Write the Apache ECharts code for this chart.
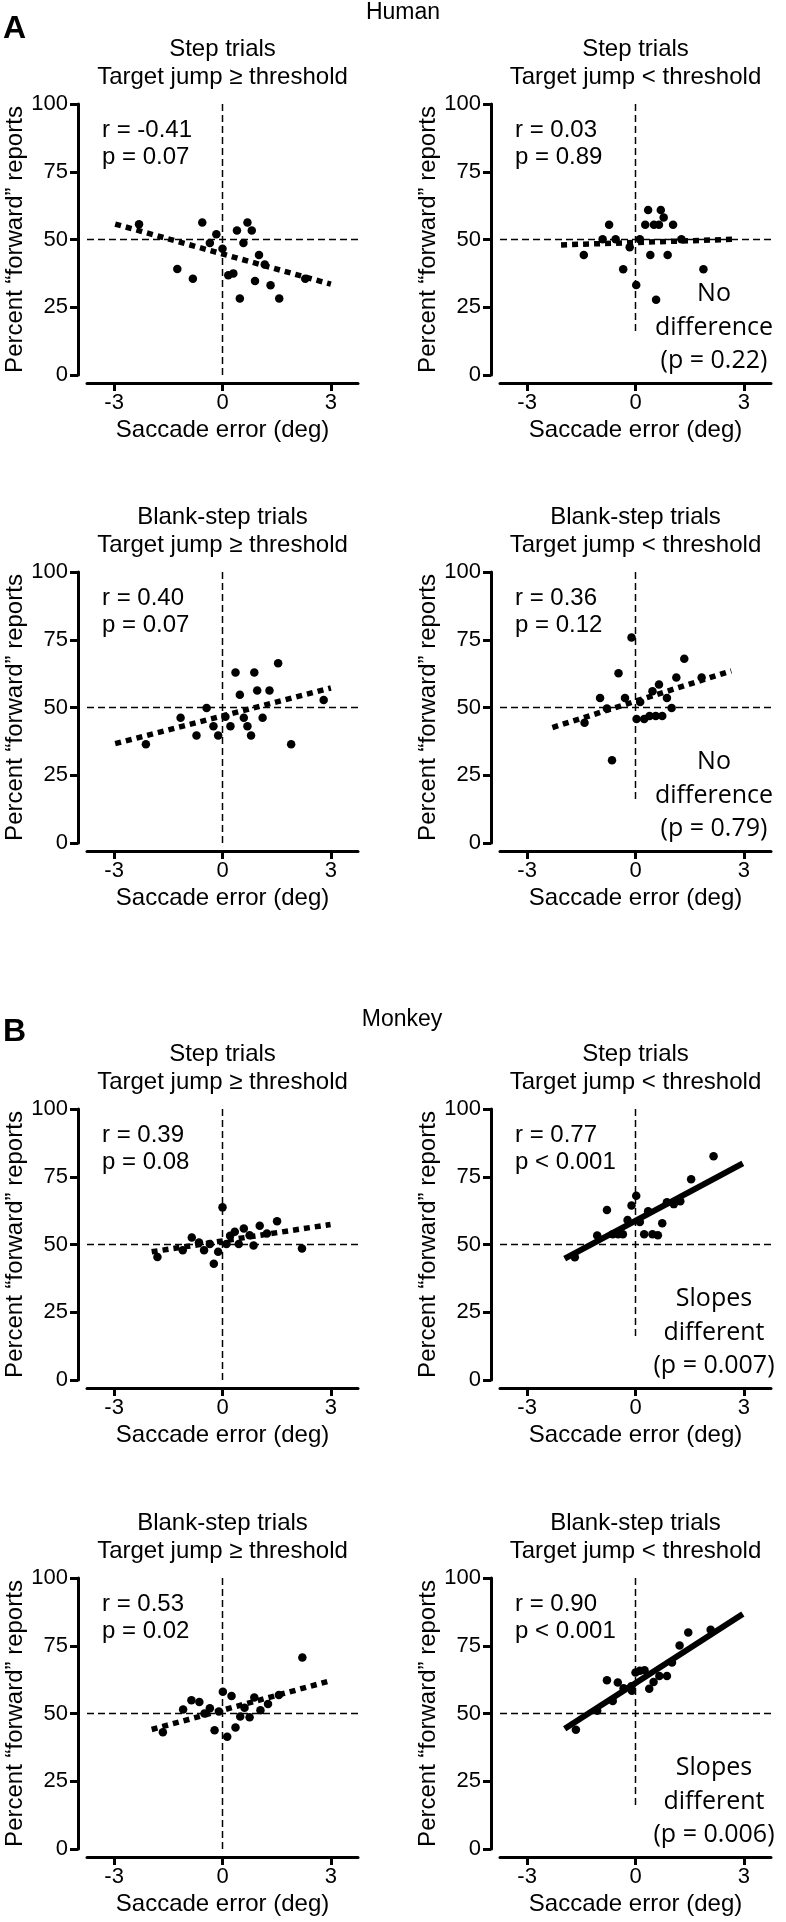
<!DOCTYPE html>
<html lang="en">
<head>
<meta charset="UTF-8">
<title>Saccade error vs forward reports</title>
<script src="https://cdn.jsdelivr.net/npm/echarts@6/dist/echarts.min.js"></script>
<style>
  html, body { margin: 0; padding: 0; background: #fff; }
  #main { width: 786px; height: 1922px; }
</style>
</head>
<body>
<div id="main"></div>
<script>
  // x = saccade error (deg), y = percent "forward" reports
  // A: human
  const hStepAboveX = [-2.31, -0.56, -0.17, -0.35, 0, -1.25, -0.82, 0.40, 0.69, 0.81, 0.58, 1.01, 1.17, 0.16, 0.30, 0.90, 1.33, 0.48, 1.57, 2.29];
  const hStepAboveY = [55.6, 56.3, 51.9, 48.7, 46.6, 39.1, 35.5, 53.3, 56.3, 53.3, 48.7, 44.3, 40.8, 36.8, 37.5, 34.7, 33.1, 28.2, 28.2, 35.5];
  const hStepAboveFit = [[-2.97, 55.7], [3.0, 33.5]];

  const hStepBelowX = [-0.73, -1.43, -0.91, -0.55, -0.34, -0.16, 0.02, 0.12, 0.27, 0.35, 0.51, 0.65, 0.70, 0.78, 1.04, 0.41, 0.89, 1.27, 0.57, 1.88];
  const hStepBelowY = [55.4, 44.3, 50.1, 50.1, 39.0, 47.1, 33.2, 50.1, 55.4, 60.9, 55.4, 55.4, 60.9, 58.1, 55.4, 44.3, 44.3, 50.1, 27.8, 39.0];
  const hStepBelowFit = [[-2.06, 48.0], [2.78, 50.1]];

  const hBlankAboveX = [-2.12, -1.16, -0.72, -0.44, -0.25, -0.12, 0.08, 0.22, 0.36, 0.48, 0.59, 0.69, 0.79, 0.88, 0.96, 1.11, 1.30, 1.54, 1.90, 2.80];
  const hBlankAboveY = [36.4, 46.2, 39.7, 49.8, 43.1, 39.7, 46.6, 43.1, 62.9, 54.7, 46.2, 43.1, 39.7, 62.9, 56.3, 46.2, 56.3, 66.3, 36.4, 52.8];
  const hBlankAboveFit = [[-2.97, 36.7], [3.0, 57.2]];

  const hBlankBelowX = [-0.11, -0.47, -0.98, -0.79, -0.29, -1.41, -0.65, 0.13, 0.03, 0.24, 0.39, 0.56, 0.74, 0.47, 0.65, 0.87, 1.00, 1.13, 1.35, 1.83];
  const hBlankBelowY = [75.8, 62.6, 53.5, 49.6, 53.5, 44.4, 30.5, 52.0, 45.8, 45.8, 46.9, 46.9, 46.9, 56.0, 58.5, 53.5, 49.8, 61.1, 68.0, 61.1];
  const hBlankBelowFit = [[-2.30, 42.6], [2.65, 63.5]];

  // B: monkey
  const mStepAboveX = [-1.80, -1.10, -0.85, -0.65, -0.51, -0.35, -0.24, -0.12, 0, 0.11, 0.21, 0.34, 0.45, 0.59, 0.75, 0.86, 1.03, 1.23, 1.51, 2.20];
  const mStepAboveY = [45.4, 47.9, 52.6, 50.7, 47.9, 50.2, 42.9, 47.3, 63.7, 50.2, 53.2, 54.7, 50.2, 55.9, 53.4, 49.6, 56.9, 54.1, 58.6, 48.5];
  const mStepAboveFit = [[-1.96, 47.3], [2.99, 57.4]];

  const mStepBelowX = [-1.68, -1.06, -0.79, -0.63, -0.48, -0.35, -0.22, -0.11, 0.02, 0.12, 0.24, 0.35, 0.47, 0.62, 0.74, 0.87, 1.06, 1.24, 1.54, 2.16];
  const mStepBelowY = [45.3, 53.3, 62.7, 53.8, 53.8, 53.8, 59.0, 64.4, 68.0, 58.3, 53.8, 62.3, 53.8, 53.4, 57.8, 65.6, 64.9, 66.0, 74.1, 82.6];
  const mStepBelowFit = [[-1.96, 44.8], [2.97, 79.9]];

  const mBlankAboveX = [-1.65, -1.09, -0.86, -0.64, -0.50, -0.35, -0.22, -0.10, 0.01, 0.13, 0.25, 0.36, 0.49, 0.61, 0.75, 0.88, 1.05, 1.26, 1.56, 2.21];
  const mBlankAboveY = [43.1, 51.5, 54.9, 54.2, 50.0, 51.9, 43.8, 50.7, 58.0, 41.4, 56.5, 44.8, 48.9, 52.1, 48.6, 55.9, 51.2, 53.5, 56.8, 70.7];
  const mBlankAboveFit = [[-1.96, 44.1], [2.99, 62.1]];

  const mBlankBelowX = [-1.65, -1.06, -0.79, -0.63, -0.49, -0.33, -0.10, -0.11, 0, 0.12, 0.25, 0.38, 0.50, 0.66, 0.87, 1.01, 1.22, 1.46, 2.08];
  const mBlankBelowY = [44.0, 51.0, 62.3, 54.6, 61.4, 59.3, 58.4, 60.1, 65.1, 65.8, 66.0, 59.1, 61.6, 63.8, 63.8, 68.8, 75.1, 79.9, 80.9];
  const mBlankBelowFit = [[-1.96, 44.4], [2.97, 86.7]];

  const xTicks = [-3, 0, 3];
  const yTicks = [0, 25, 50, 75, 100];

  const panels = [
    { x: hStepAboveX, y: hStepAboveY, fit: hStepAboveFit, solid: false, title: ['Step trials', 'Target jump ≥ threshold'], stats: ['r = -0.41', 'p = 0.07'], note: null },
    { x: hStepBelowX, y: hStepBelowY, fit: hStepBelowFit, solid: false, title: ['Step trials', 'Target jump < threshold'], stats: ['r = 0.03', 'p = 0.89'], note: ['No', 'difference', '(p = 0.22)'] },
    { x: hBlankAboveX, y: hBlankAboveY, fit: hBlankAboveFit, solid: false, title: ['Blank-step trials', 'Target jump ≥ threshold'], stats: ['r = 0.40', 'p = 0.07'], note: null },
    { x: hBlankBelowX, y: hBlankBelowY, fit: hBlankBelowFit, solid: false, title: ['Blank-step trials', 'Target jump < threshold'], stats: ['r = 0.36', 'p = 0.12'], note: ['No', 'difference', '(p = 0.79)'] },
    { x: mStepAboveX, y: mStepAboveY, fit: mStepAboveFit, solid: false, title: ['Step trials', 'Target jump ≥ threshold'], stats: ['r = 0.39', 'p = 0.08'], note: null },
    { x: mStepBelowX, y: mStepBelowY, fit: mStepBelowFit, solid: true, title: ['Step trials', 'Target jump < threshold'], stats: ['r = 0.77', 'p < 0.001'], note: ['Slopes', 'different', '(p = 0.007)'] },
    { x: mBlankAboveX, y: mBlankAboveY, fit: mBlankAboveFit, solid: false, title: ['Blank-step trials', 'Target jump ≥ threshold'], stats: ['r = 0.53', 'p = 0.02'], note: null },
    { x: mBlankBelowX, y: mBlankBelowY, fit: mBlankBelowFit, solid: true, title: ['Blank-step trials', 'Target jump < threshold'], stats: ['r = 0.90', 'p < 0.001'], note: ['Slopes', 'different', '(p = 0.006)'] }
  ];

  const FONT = '"Liberation Sans", Arial, sans-serif';
  const colLeft = [87, 500];
  const rowTop = [104, 572, 1109, 1578];
  const plotW = 271, plotH = 271;

  let grids = [], xAxes = [], yAxes = [], series = [], graphics = [];

  function txt(text, x, y, size, align, family, weight) {
    return {
      type: 'text', x: x, y: y, silent: true,
      style: {
        text: text,
        font: (weight || 'normal') + ' ' + size + 'px ' + (family || FONT),
        textAlign: align || 'center',
        textVerticalAlign: 'middle',
        fill: '#000'
      }
    };
  }

  panels.forEach((p, i) => {
    const left = colLeft[i % 2];
    const top = rowTop[Math.floor(i / 2)];
    grids.push({ left: left, top: top, width: plotW, height: plotH });

    xAxes.push({
      gridIndex: i, type: 'value', min: -3.75, max: 3.75, offset: 8,
      name: 'Saccade error (deg)', nameLocation: 'middle', nameGap: 35,
      nameTextStyle: { fontFamily: FONT, fontSize: 24, color: '#000' },
      axisLine: { onZero: false, lineStyle: { color: '#000', width: 3 } },
      axisTick: { customValues: xTicks, length: 8, lineStyle: { color: '#000', width: 3 } },
      axisLabel: { customValues: xTicks, margin: 9, fontFamily: FONT, fontSize: 22, color: '#000' },
      splitLine: { show: false }
    });
    yAxes.push({
      gridIndex: i, type: 'value', min: 0, max: 100, interval: 25, offset: 9,
      name: 'Percent “forward” reports', nameLocation: 'middle', nameGap: 50,
      nameTextStyle: { fontFamily: FONT, fontSize: 24, color: '#000' },
      axisLine: { onZero: false, lineStyle: { color: '#000', width: 3 } },
      axisTick: { length: 8, lineStyle: { color: '#000', width: 3 } },
      axisLabel: { margin: 10, fontFamily: FONT, fontSize: 22, color: '#000' },
      splitLine: { show: false }
    });

    const dash = { color: '#000', width: 1.5, type: [7, 4] };
    series.push({
      type: 'line', xAxisIndex: i, yAxisIndex: i, silent: true, symbol: 'none', clip: false,
      data: [[-3.75, 50], [3.75, 50]], lineStyle: dash
    });
    series.push({
      type: 'line', xAxisIndex: i, yAxisIndex: i, silent: true, symbol: 'none', clip: false,
      data: [[0, 100], [0, p.note ? 15 : 0]], lineStyle: dash
    });
    series.push({
      type: 'line', xAxisIndex: i, yAxisIndex: i, silent: true, symbol: 'none', clip: false,
      data: p.fit,
      lineStyle: p.solid ? { color: '#000', width: 6 } : { color: '#000', width: 5.5, type: [6, 5] }
    });
    series.push({
      type: 'scatter', xAxisIndex: i, yAxisIndex: i, symbolSize: 8.5,
      itemStyle: { color: '#000', opacity: 1 },
      data: p.x.map((v, k) => [v, p.y[k]])
    });

    const cx = left + plotW / 2;
    graphics.push(txt(p.title[0], cx, top - 55, 24));
    graphics.push(txt(p.title[1], cx, top - 27, 24));
    graphics.push(txt(p.stats[0], left + 15, top + 26, 24, 'left'));
    graphics.push(txt(p.stats[1], left + 15, top + 53, 24, 'left'));
    if (p.note) {
      const nx = left + 214;
      const fam = '"Open Sans", "Noto Sans", sans-serif';
      graphics.push(txt(p.note[0], nx, top + 190, 25, 'center', fam));
      graphics.push(txt(p.note[1], nx, top + 224, 25, 'center', fam));
      graphics.push(txt(p.note[2], nx, top + 257, 25, 'center', fam));
    }
  });

  graphics.push(txt('A', 3, 29, 32, 'left', FONT, 'bold'));
  graphics.push(txt('B', 3, 1032, 32, 'left', FONT, 'bold'));
  graphics.push(txt('Human', 403, 13, 23));
  graphics.push(txt('Monkey', 402, 1020, 23));

  let myChart = echarts.init(document.getElementById('main'));
  myChart.setOption({
    animation: false,
    backgroundColor: '#fff',
    grid: grids,
    xAxis: xAxes,
    yAxis: yAxes,
    series: series,
    graphic: graphics
  });
</script>
</body>
</html>
